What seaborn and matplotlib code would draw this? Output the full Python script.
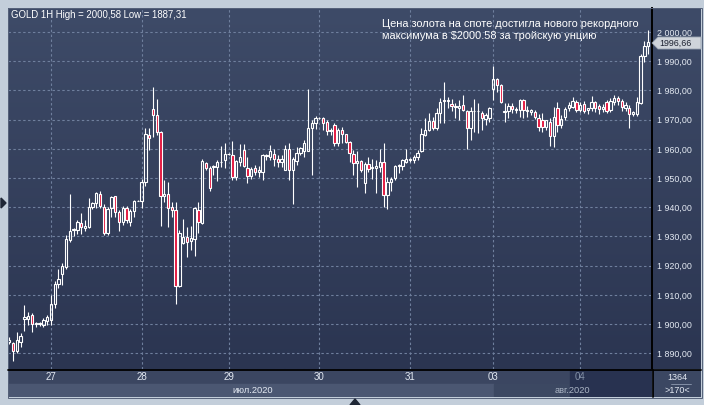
import numpy as np
import pandas as pd
import matplotlib
matplotlib.use('Agg')
import matplotlib.pyplot as plt
import seaborn as sns
from matplotlib.colors import LinearSegmentedColormap
from matplotlib.patches import Polygon, Rectangle
from matplotlib.ticker import FuncFormatter

# GOLD 1H candles, 27 Jul - 04 Aug 2020
opens = [1894.0, 1893.4, 1890.6, 1894.0, 1901.8, 1901.8, 1903.0, 1900.1, 1900.0, 1899.7,
         1901.2, 1901.4, 1906.9, 1913.6, 1917.0, 1919.7, 1928.8, 1932.2, 1932.2, 1934.7,
         1932.9, 1933.4, 1940.0, 1941.4, 1944.6, 1940.2, 1931.3, 1939.6, 1943.9, 1938.3,
         1935.0, 1939.9, 1935.1, 1938.7, 1942.2, 1942.2, 1948.6, 1964.8, 1973.6, 1971.6,
         1965.9, 1943.9, 1944.4, 1940.2, 1939.1, 1913.2, 1927.9, 1929.7, 1928.6, 1929.0,
         1939.1, 1934.7, 1955.1, 1953.3, 1953.7, 1953.7, 1955.4, 1956.2, 1958.2, 1957.9,
         1950.3, 1955.6, 1959.6, 1953.3, 1950.8, 1953.3, 1952.0, 1952.2, 1957.5, 1957.3,
         1958.3, 1956.4, 1955.6, 1952.8, 1959.9, 1952.8, 1956.0, 1958.5, 1959.4, 1959.4,
         1967.0, 1969.0, 1970.5, 1970.7, 1969.3, 1966.2, 1968.2, 1961.9, 1966.5, 1965.1,
         1962.3, 1958.3, 1955.3, 1956.0, 1948.4, 1954.8, 1953.5, 1953.4, 1953.9, 1955.6,
         1944.2, 1948.8, 1949.9, 1954.0, 1954.1, 1955.6, 1956.3, 1956.2, 1957.1, 1959.4,
         1964.8, 1966.5, 1969.7, 1967.0, 1972.2, 1976.7, 1976.5, 1975.4, 1974.6, 1974.0,
         1975.0, 1972.8, 1967.0, 1972.8, 1972.9, 1972.2, 1970.1, 1970.5, 1980.4, 1983.8,
         1981.9, 1972.6, 1972.8, 1974.7, 1973.4, 1973.3, 1976.7, 1972.8, 1972.5, 1972.5,
         1970.7, 1969.9, 1967.6, 1969.3, 1964.5, 1973.9, 1968.2, 1971.0, 1973.9, 1974.5,
         1976.2, 1973.3, 1975.3, 1973.4, 1973.9, 1976.0, 1974.8, 1973.6, 1975.9, 1973.3,
         1976.2, 1977.5, 1976.4, 1974.1, 1974.1, 1971.8, 1971.8, 1975.6, 1991.8, 1995.3]
highs = [1895.5, 1893.8, 1897.4, 1897.1, 1906.5, 1904.0, 1903.7, 1900.8, 1900.6, 1901.9,
         1903.0, 1910.0, 1914.9, 1918.8, 1920.8, 1930.5, 1944.4, 1932.8, 1935.7, 1937.9,
         1935.7, 1943.1, 1941.9, 1945.2, 1945.4, 1941.0, 1940.0, 1943.9, 1944.0, 1939.0,
         1940.5, 1940.3, 1939.3, 1942.5, 1942.5, 1949.7, 1967.0, 1967.0, 1981.1, 1977.1,
         1966.0, 1949.4, 1948.8, 1941.8, 1941.9, 1932.2, 1935.9, 1933.4, 1933.7, 1940.2,
         1941.7, 1956.4, 1955.6, 1954.1, 1954.5, 1956.2, 1961.0, 1961.9, 1958.5, 1962.7,
         1956.2, 1961.6, 1961.6, 1957.1, 1953.7, 1954.5, 1954.1, 1958.3, 1958.3, 1961.3,
         1959.9, 1957.9, 1957.9, 1961.3, 1961.9, 1957.1, 1960.8, 1960.8, 1963.1, 1980.4,
         1969.9, 1971.3, 1970.8, 1971.0, 1969.9, 1967.0, 1968.8, 1967.0, 1967.6, 1965.1,
         1962.8, 1959.6, 1959.4, 1956.2, 1955.6, 1957.1, 1956.4, 1956.2, 1959.9, 1961.9,
         1950.3, 1950.5, 1954.5, 1954.8, 1956.4, 1959.9, 1956.9, 1957.9, 1959.6, 1967.0,
         1970.5, 1972.2, 1971.0, 1973.9, 1977.3, 1983.0, 1977.8, 1977.0, 1975.6, 1976.7,
         1978.5, 1973.3, 1974.5, 1977.0, 1975.6, 1973.1, 1972.2, 1974.2, 1988.4, 1984.2,
         1982.2, 1975.6, 1975.6, 1975.6, 1974.5, 1977.0, 1977.0, 1974.8, 1973.8, 1973.3,
         1971.8, 1972.2, 1970.0, 1970.5, 1974.5, 1976.2, 1971.5, 1974.5, 1975.9, 1977.9,
         1976.7, 1975.9, 1976.4, 1974.0, 1978.2, 1976.4, 1975.5, 1975.3, 1976.7, 1977.5,
         1978.5, 1978.2, 1977.0, 1975.9, 1975.0, 1972.8, 1977.9, 1992.5, 1997.0, 2000.58]
lows = [1893.0, 1887.31, 1890.0, 1892.3, 1897.7, 1899.7, 1897.4, 1898.9, 1899.4, 1899.1,
        1899.7, 1899.7, 1905.4, 1912.3, 1913.4, 1919.0, 1928.0, 1930.0, 1930.9, 1930.9,
        1931.7, 1932.8, 1939.3, 1939.6, 1939.6, 1930.5, 1930.5, 1936.8, 1936.8, 1931.7,
        1933.8, 1934.5, 1933.6, 1936.8, 1942.0, 1939.9, 1947.3, 1959.6, 1964.2, 1964.8,
        1933.6, 1941.9, 1933.4, 1936.8, 1906.8, 1912.8, 1927.4, 1922.9, 1925.4, 1923.4,
        1931.1, 1934.3, 1952.8, 1945.6, 1951.1, 1949.1, 1953.7, 1953.4, 1958.0, 1949.4,
        1949.4, 1954.1, 1953.7, 1948.2, 1949.6, 1951.1, 1950.3, 1949.4, 1956.2, 1956.2,
        1954.1, 1953.7, 1953.7, 1952.8, 1949.4, 1941.1, 1954.5, 1957.9, 1957.3, 1959.4,
        1951.1, 1966.7, 1970.2, 1966.5, 1964.8, 1964.8, 1961.0, 1961.0, 1961.9, 1961.9,
        1955.6, 1951.1, 1947.1, 1952.2, 1945.0, 1952.2, 1949.6, 1944.8, 1952.2, 1940.2,
        1939.3, 1945.4, 1949.4, 1951.9, 1952.8, 1955.1, 1955.4, 1955.3, 1956.2, 1959.0,
        1964.4, 1966.2, 1966.5, 1966.5, 1968.8, 1968.8, 1973.9, 1972.8, 1970.5, 1969.9,
        1972.8, 1959.8, 1963.1, 1965.9, 1965.6, 1966.5, 1968.2, 1969.3, 1976.7, 1979.6,
        1975.8, 1969.3, 1970.5, 1972.2, 1972.2, 1971.0, 1970.5, 1971.0, 1971.5, 1970.2,
        1966.1, 1965.9, 1966.5, 1961.0, 1960.5, 1965.9, 1967.0, 1969.9, 1972.8, 1973.9,
        1972.7, 1972.5, 1972.2, 1972.0, 1973.0, 1972.5, 1972.0, 1972.5, 1972.2, 1972.5,
        1975.0, 1975.0, 1973.0, 1973.0, 1967.0, 1971.3, 1971.4, 1975.3, 1989.6, 1992.5]
closes = [1894.5, 1890.6, 1894.6, 1895.9, 1902.3, 1902.9, 1899.9, 1900.4, 1900.2, 1901.4,
          1902.5, 1906.8, 1913.6, 1915.3, 1919.9, 1929.0, 1932.0, 1932.4, 1934.9, 1933.1,
          1933.6, 1940.0, 1941.5, 1944.8, 1940.4, 1931.3, 1939.5, 1943.4, 1938.3, 1934.9,
          1939.9, 1935.5, 1938.7, 1942.3, 1942.3, 1948.6, 1965.1, 1963.6, 1971.6, 1965.9,
          1943.9, 1944.4, 1939.6, 1939.1, 1913.2, 1931.3, 1929.7, 1928.2, 1929.5, 1939.6,
          1935.1, 1955.9, 1953.3, 1946.7, 1954.1, 1955.6, 1955.6, 1958.3, 1958.3, 1950.3,
          1955.9, 1957.1, 1954.1, 1950.8, 1953.0, 1952.0, 1952.8, 1957.9, 1957.9, 1959.4,
          1956.4, 1955.6, 1956.4, 1959.9, 1952.8, 1956.4, 1958.5, 1960.2, 1961.9, 1967.0,
          1969.0, 1970.5, 1970.6, 1969.0, 1966.2, 1966.5, 1961.9, 1966.5, 1965.1, 1962.3,
          1958.5, 1955.3, 1956.0, 1952.8, 1954.8, 1953.0, 1953.8, 1954.1, 1955.6, 1944.2,
          1948.8, 1949.6, 1954.1, 1954.5, 1956.2, 1956.7, 1956.5, 1957.3, 1958.7, 1965.1,
          1966.5, 1969.7, 1967.0, 1972.2, 1976.2, 1976.3, 1976.7, 1974.7, 1974.3, 1974.7,
          1973.3, 1967.0, 1973.1, 1973.0, 1972.8, 1970.5, 1971.6, 1973.9, 1983.8, 1981.9,
          1976.2, 1973.0, 1974.7, 1973.6, 1973.8, 1976.7, 1973.3, 1973.3, 1973.3, 1971.0,
          1967.6, 1967.6, 1969.9, 1964.5, 1971.0, 1968.2, 1970.2, 1973.6, 1974.9, 1976.4,
          1973.3, 1975.0, 1973.0, 1973.9, 1976.2, 1974.1, 1973.6, 1974.5, 1973.0, 1976.4,
          1977.5, 1976.4, 1974.5, 1975.0, 1971.8, 1972.5, 1975.9, 1991.8, 1995.2, 1996.66]

day_labels = ['27', '28', '29', '30', '31', '03', '04']
day_bars = [11, 35, 58, 82, 106, 128, 151]
price_ticks = [1890, 1900, 1910, 1920, 1930, 1940, 1950, 1960, 1970, 1980, 1990, 2000]
last_price = '1996,66'
title_text = 'GOLD 1H High = 2000,58 Low = 1887,31'
note_text = 'Цена золота на споте достигла нового рекордного\nмаксимума в $2000.58 за тройскую унцию'

df = pd.DataFrame({'open': opens, 'high': highs, 'low': lows, 'close': closes})
df['bar'] = np.arange(len(df))
df['top'] = df[['open', 'close']].max(axis=1)
df['bottom'] = df[['open', 'close']].min(axis=1)
df['bear'] = df['close'] < df['open']

sns.set_theme(style='dark')
plt.rcParams['font.family'] = ['Liberation Sans', 'DejaVu Sans']

W, H = 704, 405
border = '#c3ceda'
grid_c = '#6f7f9d'
text_c = '#e3e9f2'
red = '#e3163e'


def box(x0, y0, x1, y1):
    return [x0 / W, 1 - y1 / H, (x1 - x0) / W, (y1 - y0) / H]


fig = plt.figure(figsize=(W / 100, H / 100), dpi=100, facecolor=border)

# gradient background behind chart and price scale
bg = fig.add_axes(box(8, 8, 701, 369))
grad = LinearSegmentedColormap.from_list('bg', ['#3e4b68', '#2b3551'])
bg.imshow(np.linspace(0, 1, 256).reshape(-1, 1), cmap=grad, aspect='auto', extent=[0, 1, 0, 1])
bg.axis('off')

ax = fig.add_axes(box(8, 8, 652, 369))
ax.patch.set_alpha(0)
ax.set_xlim(-0.35, 170.0)
ax.set_ylim(1884.6, 2008.25)

# dashed grid
ax.hlines(price_ticks, -0.35, 170.0, color=grid_c, lw=0.8, linestyles=(0, (2.2, 2.2)), zorder=1)
ax.vlines(day_bars, 1884.6, 2008.25, color=grid_c, lw=0.8, linestyles=(0, (2.2, 2.2)), zorder=1)

# wicks (outside the body) and bodies
ax.vlines(df['bar'], df['low'], df['bottom'], color='white', lw=0.8, zorder=2)
ax.vlines(df['bar'], df['top'], df['high'], color='white', lw=0.8, zorder=2)
faces = [red if b else 'none' for b in df['bear']]
ax.bar(df['bar'], (df['top'] - df['bottom']).clip(lower=0.05), bottom=df['bottom'], width=0.62,
       color=faces, edgecolor='white', linewidth=0.8, zorder=3)

ax.set_xticks([])
ax.yaxis.tick_right()
ax.set_yticks(price_ticks)
ax.yaxis.set_major_formatter(FuncFormatter(lambda v, _: f'{v:,.2f}'.replace(',', ' ').replace('.', ',')))
ax.tick_params(axis='y', length=0, pad=3.6, labelsize=6.4, labelcolor=text_c)
for s in ['top', 'left', 'bottom']:
    ax.spines[s].set_visible(False)
ax.spines['right'].set_color('black')
ax.spines['right'].set_linewidth(1.4)
ax.grid(False)

# date strip
dax = fig.add_axes(box(8, 369, 652, 397))
dax.set_xlim(-0.35, 170.0)
dax.set_ylim(0, 1)
dax.add_patch(Rectangle((-0.35, 0.46), 170.35, 0.54, color='#3b4661', zorder=0))
dax.add_patch(Rectangle((-0.35, 0), 128.6, 0.46, color='#4b5772', zorder=0))
dax.add_patch(Rectangle((128.25, 0), 20.0, 0.46, color='#3c4862', zorder=0))
dax.add_patch(Rectangle((148.25, 0), 21.75, 1, color='#283250', zorder=0))
for lab, b in zip(day_labels, day_bars):
    dax.text(b, 0.71, lab, ha='center', va='center', fontsize=7,
             color='#8592a8' if lab == '04' else text_c)
dax.text(64.5, 0.23, 'июл.2020', ha='center', va='center', fontsize=6.7, color=text_c)
dax.text(149.0, 0.23, 'авг.2020', ha='center', va='center', fontsize=6.7, color='#aab4c4')
dax.axis('off')

# bottom-right counter box
cax = fig.add_axes(box(653, 370, 701, 397))
cax.set_xlim(0, 1)
cax.set_ylim(0, 1)
cax.add_patch(Rectangle((0, 0), 1, 1, color='#3b4762'))
cax.text(0.5, 0.72, '1364', ha='center', va='center', fontsize=6.5, color=text_c)
cax.plot([0.38, 0.8], [0.5, 0.5], color='#8e9ab0', lw=0.6)
cax.text(0.5, 0.25, '>170<', ha='center', va='center', fontsize=6.5, color=text_c)
cax.axis('off')

# overlay in pixel coordinates for frame, tag and texts
ov = fig.add_axes([0, 0, 1, 1])
ov.set_xlim(0, W)
ov.set_ylim(H, 0)
ov.axis('off')
ov.patch.set_alpha(0)
ov.plot([8, 701], [369.5, 369.5], color='black', lw=1.3)
ov.plot([652.5, 652.5], [369.5, 397], color='black', lw=1.3)
ov.add_patch(Rectangle((7.5, 7.5), 694, 390, fill=False, edgecolor='#56627a', lw=0.7))
ov.add_patch(Polygon([(652, 43), (658, 37), (701, 37), (701, 49), (658, 49)],
                     facecolor='#cfd4db', edgecolor='#9aa4b2', lw=0.6))
ov.text(659, 43.5, last_price, ha='left', va='center', fontsize=6.4, color='#1c2130')
ov.add_patch(Polygon([(1, 198), (6, 203), (1, 208)], color='#1f2736'))
ov.add_patch(Polygon([(350, 405), (355, 399), (360, 405)], color='#1f2736'))
ov.text(11, 15.5, title_text, ha='left', va='center', fontsize=6.9, color='white')
ov.text(382, 30, note_text, ha='left', va='center', fontsize=7.9, color='white', linespacing=1.2)

fig.savefig('out.png', dpi=100, facecolor=border)
